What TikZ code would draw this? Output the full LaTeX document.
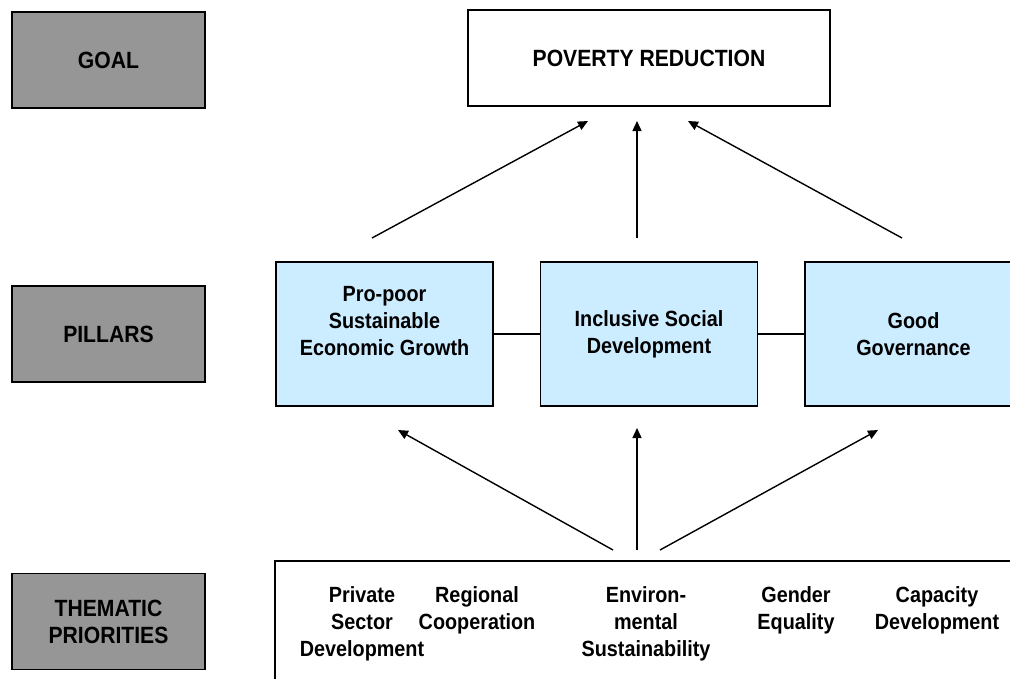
\documentclass[tikz,border=0pt]{standalone}
\usepackage{fontspec}
\setmainfont{Liberation Sans}[FakeStretch=0.9]
\usetikzlibrary{arrows.meta,positioning}

\definecolor{levelgray}{RGB}{150,150,150}
\definecolor{pillarblue}{RGB}{204,236,255}

\begin{document}
\begin{tikzpicture}[x=1pt, y=-1pt, node distance=264.5pt]
    \tikzstyle{level} = [rectangle, draw, line width=1.6pt, fill=levelgray, minimum width=193pt, minimum height=96pt, align=center, font=\fontsize{23.5}{27}\selectfont\bfseries]
    \tikzstyle{pillar} = [rectangle, draw, line width=1.6pt, fill=pillarblue, minimum width=217pt, minimum height=144pt, align=center, font=\fontsize{22}{27}\selectfont\bfseries]
    \tikzstyle{theme} = [anchor=north, inner sep=0pt, align=center, font=\fontsize{22}{27}\selectfont\bfseries]
    \tikzstyle{link} = [draw, line width=1.4pt]
    \tikzstyle{line} = [draw, line width=1.4pt, -{Triangle[length=10pt,width=9pt]}]

    \clip (0,0) rectangle (1010,678);

    % the three levels on the left
    \node [level] (goal) at (108.5,60) {GOAL};
    \node [level] (pillars) at (108.5,334) {PILLARS};
    \node [level] (thematic) at (108.5,621.5) {THEMATIC\\PRIORITIES};

    \node [rectangle, draw, line width=1.6pt, minimum width=362pt, minimum height=96pt, font=\fontsize{23.5}{27}\selectfont\bfseries] (poverty) at (649,58) {POVERTY REDUCTION};

    \node [pillar] (growth) at (384.5,334) {Pro-poor\\Sustainable\\Economic Growth\\\mbox{}};
    \node [pillar, right of=growth] (social) {Inclusive Social\\Development};
    \node [pillar, right of=social] (governance) {Good\\Governance};

    \draw [link] (growth) -- (social);
    \draw [link] (social) -- (governance);

    % priorities box runs off the page
    \node [rectangle, draw, line width=1.6pt, anchor=north west, minimum width=780pt, minimum height=160pt] (priorities) at (274,560) {};

    \node [theme] (private) at (362,586) {Private\\Sector\\Development};
    \node [theme] (regional) at (477,586) {Regional\\Cooperation};
    \node [theme] (environment) at (646,586) {Environ-\\mental\\Sustainability};
    \node [theme] (gender) at (796,586) {Gender\\Equality};
    \node [theme] (capacity) at (937,586) {Capacity\\Development};

    % pillars up to the goal
    \coordinate (growth-up) at (372,238);
    \coordinate (social-up) at (637,238);
    \coordinate (governance-up) at (902,238);
    \coordinate (goal-left) at (588,121);
    \coordinate (goal-mid) at (637,121);
    \coordinate (goal-right) at (688,121);
    \draw [line] (growth-up) -- (goal-left);
    \draw [line] (social-up) -- (goal-mid);
    \draw [line] (governance-up) -- (goal-right);

    % priorities up to the pillars
    \coordinate (themes-left) at (613,550);
    \coordinate (themes-mid) at (637,550);
    \coordinate (themes-right) at (660,550);
    \coordinate (growth-in) at (398,430);
    \coordinate (social-in) at (637,428);
    \coordinate (governance-in) at (878,430);
    \draw [line] (themes-left) -- (growth-in);
    \draw [line] (themes-mid) -- (social-in);
    \draw [line] (themes-right) -- (governance-in);
\end{tikzpicture}
\end{document}
